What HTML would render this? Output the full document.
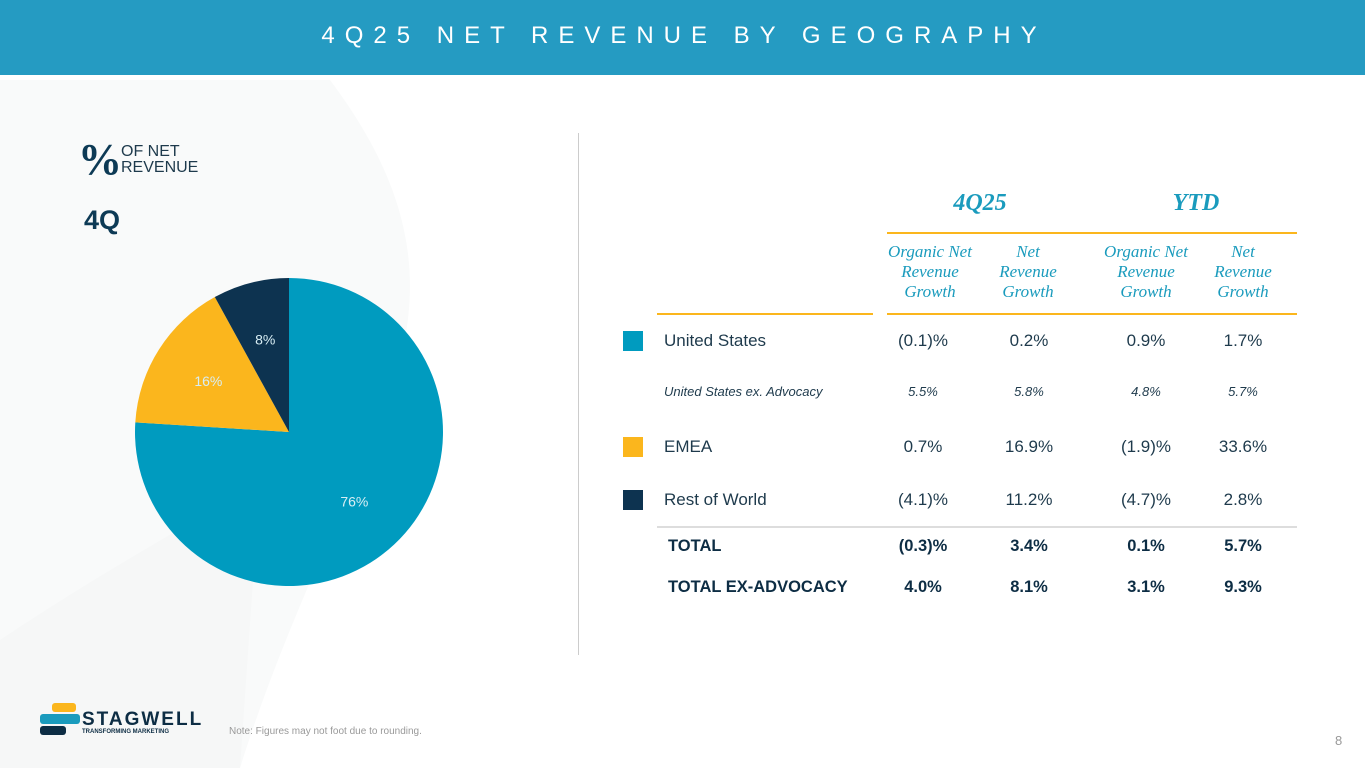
<!DOCTYPE html>
<html><head><meta charset="utf-8"><style>
body{margin:0;width:1365px;height:768px;position:relative;overflow:hidden;background:#fff;font-family:"Liberation Sans",sans-serif;}
.a{position:absolute;}
.c{position:absolute;text-align:center;transform:translateX(-50%);white-space:nowrap;}
.hdr{color:#1a9bbd;font-family:"Liberation Serif",serif;font-style:italic;}
.sub{color:#1a9bbd;font-family:"Liberation Serif",serif;font-style:italic;font-size:17px;line-height:20px;}
.row{color:#1e3a4c;font-size:17px;}
.it{font-style:italic;font-size:13px;}
.b{font-weight:bold;font-size:16.5px;color:#0d2d44;}
</style></head><body>
<svg class="a" style="left:0;top:0" width="1365" height="768">
<path d="M0,80 L330,80 C420,200 430,300 380,420 C330,540 280,640 240,768 L0,768 Z" fill="#f9fafa"/>
<path d="M0,640 C120,560 200,520 260,480 L240,768 L0,768Z" fill="#f6f7f7"/>
</svg>
<div class="a" style="left:0;top:0;width:1365px;height:75px;background:#259bc2;"></div>
<div class="c" style="left:684px;top:22px;color:#fff;font-size:24px;letter-spacing:10px;">4Q25 NET REVENUE BY GEOGRAPHY</div>
<div class="a" style="left:78px;top:134px;font-family:'Liberation Serif',serif;font-weight:bold;font-size:44px;color:#0d3a55;">%</div>
<div class="a" style="left:121px;top:144px;font-size:16px;line-height:16px;color:#1e3a4c;">OF NET<br>REVENUE</div>
<div class="a" style="left:84px;top:205px;font-size:27px;font-weight:bold;color:#0d3a55;">4Q</div>
<svg id="pie" class="a" style="left:0;top:0" width="578" height="700"></svg>
<div class="a" style="left:578px;top:133px;width:1px;height:522px;background:#ccc;"></div>
<div class="c hdr" style="left:980px;top:190px;font-size:24px;font-weight:bold;">4Q25</div>
<div class="c hdr" style="left:1196px;top:190px;font-size:24px;font-weight:bold;">YTD</div>
<div class="a" style="left:887px;top:232px;width:410px;height:2px;background:#fbb61d;"></div>
<div class="a" style="left:657px;top:313px;width:216px;height:2px;background:#fbb61d;"></div>
<div class="a" style="left:887px;top:313px;width:410px;height:2px;background:#fbb61d;"></div>
<div class="c sub" style="left:930px;top:242px;">Organic Net<br>Revenue<br>Growth</div>
<div class="c sub" style="left:1028px;top:242px;">Net<br>Revenue<br>Growth</div>
<div class="c sub" style="left:1146px;top:242px;">Organic Net<br>Revenue<br>Growth</div>
<div class="c sub" style="left:1243px;top:242px;">Net<br>Revenue<br>Growth</div>
<div id="tbl"></div>
<div class="a" style="left:657px;top:526px;width:640px;height:2px;background:#ddd;"></div>
<svg class="a" style="left:40px;top:703px" width="40" height="34">
<rect x="12" y="0" width="24" height="9" rx="3" fill="#fbb61d"/><rect x="0" y="11" width="40" height="10" rx="3" fill="#1a9bbd"/><rect x="0" y="23" width="26" height="9" rx="3" fill="#0d2d44"/></svg>
<div class="a" style="left:82px;top:709px;font-size:19px;font-weight:bold;letter-spacing:2px;color:#0d2d44;">STAGWELL</div>
<div class="a" style="left:82px;top:729px;font-size:6px;font-weight:bold;color:#0d2d44;">TRANSFORMING MARKETING</div>
<div class="a" style="left:229px;top:726px;font-size:10px;color:#999;">Note: Figures may not foot due to rounding.</div>
<div class="a" style="left:1335px;top:733px;font-size:13px;color:#999;">8</div>
<script>
const sliceLabels=["76%","16%","8%"];
const sliceValues=[76,16,8];
const sliceColors=["#009bbf","#fbb61d","#0d3350"];
const sliceNames=["slice-united-states","slice-emea","slice-rest-of-world"];
const rowNames=["United States","United States ex. Advocacy","EMEA","Rest of World","TOTAL","TOTAL EX-ADVOCACY"];
const org4q=["(0.1)%","5.5%","0.7%","(4.1)%","(0.3)%","4.0%"];
const net4q=["0.2%","5.8%","16.9%","11.2%","3.4%","8.1%"];
const orgYtd=["0.9%","4.8%","(1.9)%","(4.7)%","0.1%","3.1%"];
const netYtd=["1.7%","5.7%","33.6%","2.8%","5.7%","9.3%"];
const svg=document.getElementById('pie');const NS="http://www.w3.org/2000/svg";
const cx=289,cy=432,r=154;const tot=sliceValues.reduce((a,b)=>a+b,0);let acc=0;
sliceValues.forEach((v,i)=>{const a0=acc/tot*2*Math.PI;acc+=v;const a1=acc/tot*2*Math.PI;
const p=document.createElementNS(NS,'path');
const x0=cx+r*Math.sin(a0),y0=cy-r*Math.cos(a0),x1=cx+r*Math.sin(a1),y1=cy-r*Math.cos(a1);
p.setAttribute('d',`M${cx},${cy}L${x0},${y0}A${r},${r} 0 ${a1-a0>Math.PI?1:0} 1 ${x1},${y1}Z`);
p.setAttribute('fill',sliceColors[i]);


svg.appendChild(p);
const am=(a0+a1)/2,lr=r*0.62;const t=document.createElementNS(NS,'text');
t.setAttribute('x',cx+lr*Math.sin(am));t.setAttribute('y',cy-lr*Math.cos(am)+5);
t.setAttribute('text-anchor','middle');t.setAttribute('font-size','14');t.setAttribute('fill','#d8eef4');
t.setAttribute('font-family','Liberation Sans, sans-serif');t.textContent=sliceLabels[i];


svg.appendChild(t);});
const ys=[341,394,447,500,547,588],cols=[923,1029,1146,1243];const tbl=document.getElementById('tbl');
const squares={0:"#009bbf",2:"#fbb61d",3:"#0d3350"};
rowNames.forEach((n,i)=>{const cls=i==1?'row it':(i>=4?'b':'row');
const d=document.createElement('div');d.className='a '+cls;d.style.left=(i>=4?668:664)+'px';d.style.top=(ys[i]-10)+'px';d.textContent=n;


tbl.appendChild(d);
if(squares[i]){const s=document.createElement('div');s.className='a';s.style.cssText=`left:623px;top:${ys[i]-10}px;width:20px;height:20px;background:${squares[i]}`;


tbl.appendChild(s);}
[org4q,net4q,orgYtd,netYtd].forEach((arr,j)=>{const c=document.createElement('div');c.className='c '+cls;c.style.left=cols[j]+'px';c.style.top=(ys[i]-10)+'px';c.textContent=arr[i];


tbl.appendChild(c);});});
</script>
</body></html>
